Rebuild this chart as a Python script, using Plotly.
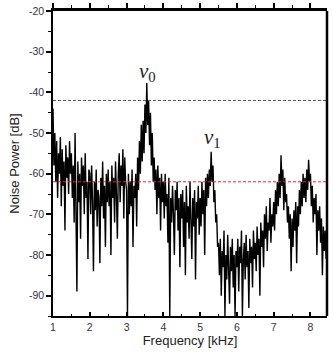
import plotly.graph_objects as go

# frequency grid: 1.0 kHz upward in 0.025 kHz steps (one row = 0.5 kHz)
freq_start = 1.0
freq_step = 0.025

noise_db = [
    -44, -58, -50, -62, -52, -66, -55, -60, -51, -68, -54, -63, -57, -74, -53, -61, -56, -65, -52, -60,
    -55, -66, -58, -72, -50, -64, -89, -57, -67, -60, -76, -56, -63, -58, -70, -55, -66, -62, -81, -59,
    -60, -70, -58, -67, -84, -62, -69, -59, -73, -64, -66, -82, -61, -68, -57, -71, -63, -78, -60, -67,
    -59, -68, -62, -80, -58, -66, -61, -72, -57, -65, -76, -60, -55, -67, -58, -63, -54, -71, -56, -62,
    -64, -95, -60, -70, -62, -68, -59, -78, -63, -66, -60, -73, -56, -64, -52, -60, -48, -57, -47, -55,
    -43, -50, -37.7, -48, -42, -53, -45, -58, -50, -62, -56, -64, -59, -70, -58, -66, -61, -74, -60, -67,
    -62, -71, -60, -68, -65, -77, -61, -95, -66, -72, -63, -70, -80, -64, -69, -62, -74, -66, -83, -65,
    -71, -64, -78, -67, -85, -63, -72, -68, -76, -62, -70, -81, -66, -73, -64, -86, -67, -71, -63, -75,
    -66, -73, -62, -70, -64, -80, -61, -68, -60, -66, -59, -63, -54.6, -62, -58, -67, -64, -72, -70, -78,
    -77, -85, -76, -90, -79, -83, -74, -95, -80, -86, -75, -82, -92, -78, -84, -76, -88, -80, -95, -79,
    -83, -76, -89, -78, -82, -74, -95, -81, -77, -86, -75, -83, -79, -93, -76, -82, -78, -88, -74, -81,
    -77, -84, -73, -80, -76, -90, -72, -78, -74, -83, -70, -76, -68, -79, -72, -74, -66, -77, -70, -73,
    -67, -74, -64, -70, -62, -68, -60, -66, -55.5, -63, -59, -69, -61, -67, -65, -72, -68, -76, -70, -84,
    -71, -78, -69, -74, -67, -82, -68, -73, -64, -70, -62, -68, -60, -66, -61, -67, -59, -64, -56.6, -62,
    -60, -68, -63, -72, -66, -70, -65, -80, -69, -74, -68, -77, -71, -85, -73, -79, -74, -81, -76, -80,
]
freq_khz = [round(freq_start + freq_step * i, 4) for i in range(len(noise_db))]

x_ticks = [1, 2, 3, 4, 5, 6, 7, 8]
y_ticks = [-90, -80, -70, -60, -50, -40, -30, -20]
y_tick_text = ['-90', '-80', '-70', '-60', '-50', '-40', '-30', '-20']
ref_levels = [(-42, '#555555'), (-62, '#f02020')]
peak_labels = [(3.58, -35.0, '<i>ν</i><sub>0</sub>'), (5.35, -51.2, '<i>ν</i><sub>1</sub>')]

x_range = [1, 8.45]
y_range = [-95, -20]

fig = go.Figure()
fig.add_trace(go.Scatter(
    x=freq_khz, y=noise_db, mode='lines',
    line=dict(color='black', width=1.4),
    showlegend=False, hoverinfo='skip'
))
# invisible trace so the top axis is drawn
fig.add_trace(go.Scatter(x=x_range, y=y_range, xaxis='x2', mode='markers',
                         marker=dict(opacity=0), showlegend=False, hoverinfo='skip'))

for level, color in ref_levels:
    fig.add_shape(type='line', xref='x', yref='y', x0=x_range[0], x1=x_range[1],
                  y0=level, y1=level, line=dict(color=color, width=1, dash='3px,2px'))

# heavier right frame
fig.add_shape(type='line', xref='paper', yref='paper', x0=1, x1=1, y0=0, y1=1,
              line=dict(color='black', width=2.5))

for x, y, txt in peak_labels:
    fig.add_annotation(x=x, y=y, text=txt, showarrow=False,
                       font=dict(family='Liberation Serif', size=21, color='#222222'))

tick_font = dict(family='Liberation Sans, Arial', size=10.5, color='#333344')
title_font = dict(family='Liberation Sans, Arial', size=13, color='#222222')

fig.update_layout(
    width=333, height=357,
    margin=dict(l=53, r=6, t=11, b=41),
    plot_bgcolor='white', paper_bgcolor='white',
    xaxis=dict(
        range=x_range, tickvals=x_ticks, ticks='inside', ticklen=4, tickwidth=1.5,
        tickcolor='black', showline=True, linecolor='black', linewidth=2,
        showgrid=False, zeroline=False, tickfont=tick_font, automargin=False,
        minor=dict(dtick=0.5, ticks='inside', ticklen=2.5, tickwidth=1.2, tickcolor='black'),
        title=dict(text='Frequency [kHz]', font=title_font, standoff=4),
    ),
    xaxis2=dict(
        range=x_range, overlaying='x', side='top', anchor='y', tickvals=x_ticks,
        ticks='outside', ticklen=5, tickwidth=1.5, tickcolor='black', showticklabels=False,
        showline=True, linecolor='black', linewidth=2.5, showgrid=False, zeroline=False,
        automargin=False,
        minor=dict(dtick=0.5, ticks='outside', ticklen=3, tickwidth=1.2, tickcolor='black'),
    ),
    yaxis=dict(
        range=y_range, tickvals=y_ticks, ticktext=y_tick_text, ticks='outside', ticklen=5,
        tickwidth=1.5, tickcolor='black', showline=True, linecolor='black', linewidth=1.5,
        showgrid=False, zeroline=False, tickfont=tick_font, automargin=False,
        minor=dict(dtick=5, ticks='outside', ticklen=3, tickwidth=1.2, tickcolor='black'),
        title=dict(text='Noise Power [dB]', font=title_font, standoff=6),
    ),
)

# drop the page's default body margin so the figure sits at the window's corner
fig.write_html("out.html", config={'displayModeBar': False},
               post_script="document.body.style.margin='0';document.body.style.overflow='hidden';")
